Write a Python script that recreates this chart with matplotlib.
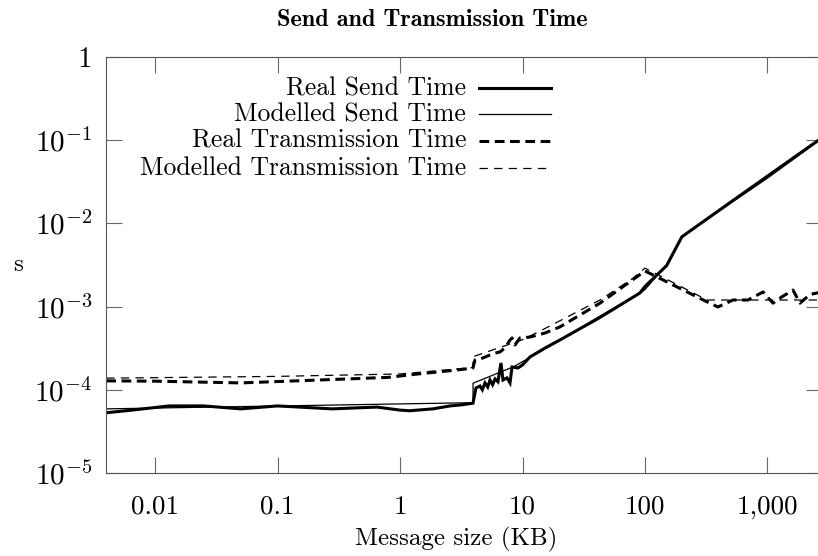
import matplotlib
matplotlib.use('Agg')
import matplotlib.pyplot as plt

plt.rcParams['font.family'] = ['cmr10', 'DejaVu Serif']
plt.rcParams['mathtext.fontset'] = 'cm'
plt.rcParams['axes.formatter.use_mathtext'] = True
plt.rcParams['lines.scale_dashes'] = False

# message size in KB, time in s
real_send_x = [0.004, 0.0065, 0.013, 0.025, 0.05, 0.1, 0.28, 0.65, 1.0, 1.2, 1.86, 2.56, 3.2, 3.94,
               4.17, 4.5, 4.7, 4.94, 5.2, 5.43, 5.7, 5.97, 6.3, 6.67, 6.93, 7.47, 7.91, 8.21, 9.19,
               10.0, 11.5, 15.3, 20.2, 42.9, 91.0, 100.0, 150.0, 200.0, 500.0, 1000.0, 2000.0, 2786.0]
real_send_y = [5.3e-5, 5.7e-5, 6.4e-5, 6.4e-5, 5.9e-5, 6.4e-5, 5.9e-5, 6.2e-5, 5.7e-5, 5.6e-5, 5.9e-5,
               6.4e-5, 6.6e-5, 6.9e-5,
               1.05e-4, 1.11e-4, 1.0e-4, 1.21e-4, 1.08e-4, 1.31e-4, 1.15e-4, 1.35e-4, 1.25e-4, 2.1e-4,
               1.31e-4, 1.39e-4, 1.21e-4, 1.88e-4, 1.83e-4,
               1.99e-4, 2.48e-4, 3.18e-4, 3.97e-4, 7.4e-4, 1.46e-3, 1.75e-3, 3.1e-3, 6.9e-3,
               1.8e-2, 3.7e-2, 7.6e-2, 0.107]

model_send_x = [0.004, 3.94, 3.95, 8.5, 20.0, 42.9, 91.0, 100.0, 150.0, 200.0, 500.0, 1000.0, 2786.0]
model_send_y = [5.9e-5, 7.0e-5, 1.2e-4, 1.9e-4, 3.9e-4, 7.7e-4, 1.45e-3, 1.6e-3, 3.2e-3, 7.0e-3,
                1.75e-2, 3.5e-2, 0.105]

real_trans_x = [0.004, 0.01, 0.05, 0.28, 0.8, 1.4, 2.92, 3.94,
                4.09, 4.5, 5.43, 5.97, 6.55, 7.19, 7.91, 8.21, 8.69, 9.53, 11.5, 15.3, 20.2,
                42.9, 100.0, 321.0, 394.0, 523.0, 693.0, 919.0, 1109.0, 1300.0, 1615.0, 1842.0,
                2223.0, 2786.0]
real_trans_y = [1.28e-4, 1.27e-4, 1.21e-4, 1.33e-4, 1.41e-4, 1.55e-4, 1.73e-4, 1.83e-4,
                2.28e-4, 2.34e-4, 2.62e-4, 2.76e-4, 2.85e-4, 3.18e-4, 3.97e-4, 4.2e-4, 3.46e-4,
                4.2e-4, 4.3e-4, 4.82e-4, 5.7e-4,
                1.1e-3, 2.68e-3, 1.14e-3, 9.9e-4, 1.2e-3, 1.2e-3, 1.5e-3, 1.1e-3, 1.3e-3, 1.58e-3,
                1.1e-3, 1.4e-3, 1.5e-3]

model_trans_x = [0.004, 0.1, 1.0, 3.94, 3.95, 10.0, 14.7, 42.9, 80.0, 100.0, 321.0, 2786.0]
model_trans_y = [1.38e-4, 1.45e-4, 1.55e-4, 1.85e-4, 2.5e-4, 4.0e-4, 5.3e-4, 1.2e-3, 2.2e-3, 2.9e-3,
                 1.2e-3, 1.2e-3]

x_ticks = [0.01, 0.1, 1, 10, 100, 1000]
x_ticklabels = ['0.01', '0.1', '1', '10', '100', '1,000']
y_ticks = [1e-5, 1e-4, 1e-3, 1e-2, 1e-1, 1]
y_ticklabels = [r'$10^{-5}$', r'$10^{-4}$', r'$10^{-3}$', r'$10^{-2}$', r'$10^{-1}$', '1']

series_labels = ['Real Send Time', 'Modelled Send Time',
                 'Real Transmission Time', 'Modelled Transmission Time']

fig = plt.figure(figsize=(8.18, 5.56), dpi=100)
ax = fig.add_axes([106 / 818, 83 / 556, 716 / 818, 416 / 556])

styles = [dict(lw=2.2, ls='-'),
          dict(lw=0.9, ls='-'),
          dict(lw=2.2, ls=(0, (7, 4))),
          dict(lw=0.9, ls=(0, (6, 4.5)))]

data = [(real_send_x, real_send_y), (model_send_x, model_send_y),
        (real_trans_x, real_trans_y), (model_trans_x, model_trans_y)]

for (xs, ys), st in zip(data, styles):
    ax.plot(xs, ys, color='black', solid_joinstyle='miter', **st)

ax.set_xscale('log')
ax.set_yscale('log')
ax.set_xlim(0.00398, 2786)
ax.set_ylim(1e-5, 1)

ax.set_xticks(x_ticks)
ax.set_xticklabels(x_ticklabels)
ax.set_yticks(y_ticks)
ax.set_yticklabels(y_ticklabels)
ax.minorticks_off()
ax.tick_params(direction='in', length=11.5, width=0.8, color='#666666',
               top=True, right=True)
ax.tick_params(axis='x', pad=16, labelsize=19.5)
ax.tick_params(axis='y', pad=10, labelsize=21)
for sp in ax.spines.values():
    sp.set_color('#555555')
    sp.set_linewidth(0.8)

ax.set_xlabel('Message size (KB)', fontsize=18)
ax.xaxis.set_label_coords(0.489, -0.13)
fig.text(18 / 818, 1 - 265 / 556, 's', fontsize=18, ha='center', va='center')
fig.text(432 / 818, 1 - 20 / 556, 'Send and Transmission Time', family='cmb10',
         fontsize=17.5, ha='center', va='center')

# gnuplot-style key: right-justified text, sample line to the right
key_y = [0.925, 0.862, 0.798, 0.733]
for lab, st, ky in zip(series_labels, styles, key_y):
    ax.text(0.503, ky, lab, transform=ax.transAxes, ha='right', va='center', fontsize=18.5)
    ax.plot([0.521, 0.6215], [ky, ky], transform=ax.transAxes, color='black', **st)

fig.savefig('out.png', dpi=100)
